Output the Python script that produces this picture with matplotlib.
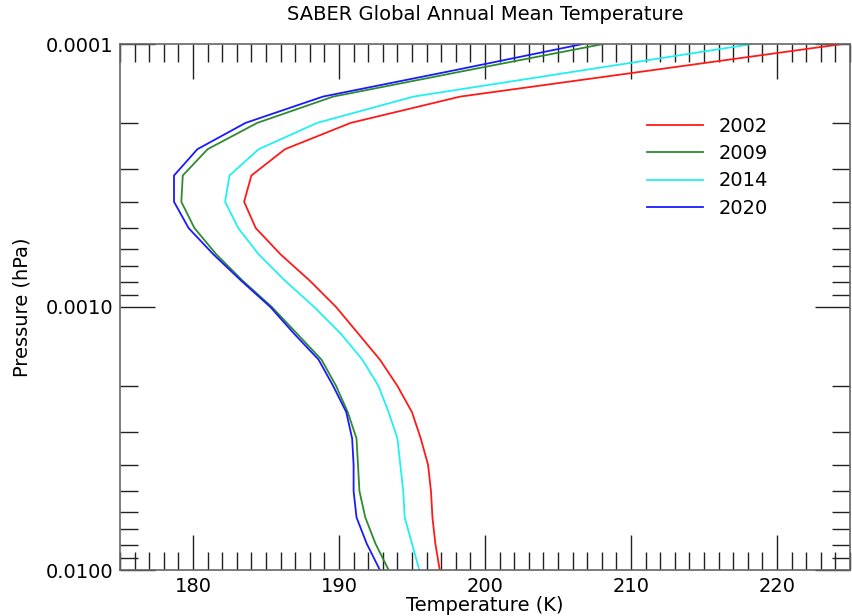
import numpy as np
import matplotlib
matplotlib.use("Agg")
import matplotlib.pyplot as plt
from matplotlib.ticker import MultipleLocator, FixedLocator, LogLocator, NullFormatter, FuncFormatter

# pressure levels (hPa), 0.1 decade apart
pres = 10.0 ** np.linspace(-4, -2, 21)

t2002 = [224.5, 211.4, 198.3, 190.8, 186.3, 184.0, 183.5, 184.3, 186.0, 188.0, 189.8,
         191.3, 192.8, 194.0, 195.0, 195.6, 196.1, 196.3, 196.4, 196.6, 196.9]
t2009 = [208.1, 198.8, 189.6, 184.4, 181.0, 179.3, 179.2, 180.1, 181.6, 183.4, 185.4,
         187.1, 188.8, 189.8, 190.6, 191.2, 191.3, 191.4, 191.8, 192.5, 193.4]
t2014 = [218.3, 206.7, 195.1, 188.5, 184.5, 182.5, 182.2, 183.1, 184.5, 186.3, 188.3,
         190.1, 191.6, 192.7, 193.4, 194.0, 194.2, 194.4, 194.5, 195.0, 195.5]
t2020 = [206.7, 197.9, 188.9, 183.6, 180.3, 178.7, 178.7, 179.7, 181.4, 183.3, 185.3,
         186.9, 188.6, 189.6, 190.5, 190.9, 191.0, 191.0, 191.2, 191.9, 192.8]

years = ["2002", "2009", "2014", "2020"]
colors = ["#ff1a1a", "#2e8b2e", "#22f0f0", "#1a1aff"]

fig = plt.figure(figsize=(8.52, 6.16), dpi=100)
ax = fig.add_axes([120/852, 46/616, 730/852, 526/616])

for t, lab, col in zip([t2002, t2009, t2014, t2020], years, colors):
    ax.plot(t, pres, color=col, lw=1.3, label=lab)

ax.set_yscale("log")
ax.set_ylim(0.01, 0.0001)
ax.set_xlim(175, 225)

ax.xaxis.set_major_locator(FixedLocator([180, 190, 200, 210, 220]))
ax.xaxis.set_minor_locator(MultipleLocator(1))
ax.yaxis.set_major_locator(FixedLocator([0.0001, 0.001, 0.01]))
ax.yaxis.set_minor_locator(LogLocator(base=10, subs=np.arange(2, 10)))
ax.yaxis.set_minor_formatter(NullFormatter())
ax.yaxis.set_major_formatter(FuncFormatter(lambda v, p: "%.4f" % v))

ax.tick_params(which="both", direction="in", top=True, right=True,
               labelsize=14, color="#222222", width=1.0)
ax.tick_params(which="major", length=25, pad=5)
ax.tick_params(which="minor", length=13)
for s in ax.spines.values():
    s.set_color("#666666")
    s.set_linewidth(1.2)

ax.set_xlabel("Temperature (K)", fontsize=14, labelpad=0)
ax.set_ylabel("Pressure (hPa)", fontsize=14, labelpad=10)
ax.set_title("SABER Global Annual Mean Temperature", fontsize=14, pad=17)

ax.legend(loc="upper left", bbox_to_anchor=(0.722, 0.862), frameon=False,
          fontsize=14, handlelength=2.9, handletextpad=0.8, labelspacing=0.43,
          borderpad=0, borderaxespad=0)

fig.savefig("out.png", dpi=100)
